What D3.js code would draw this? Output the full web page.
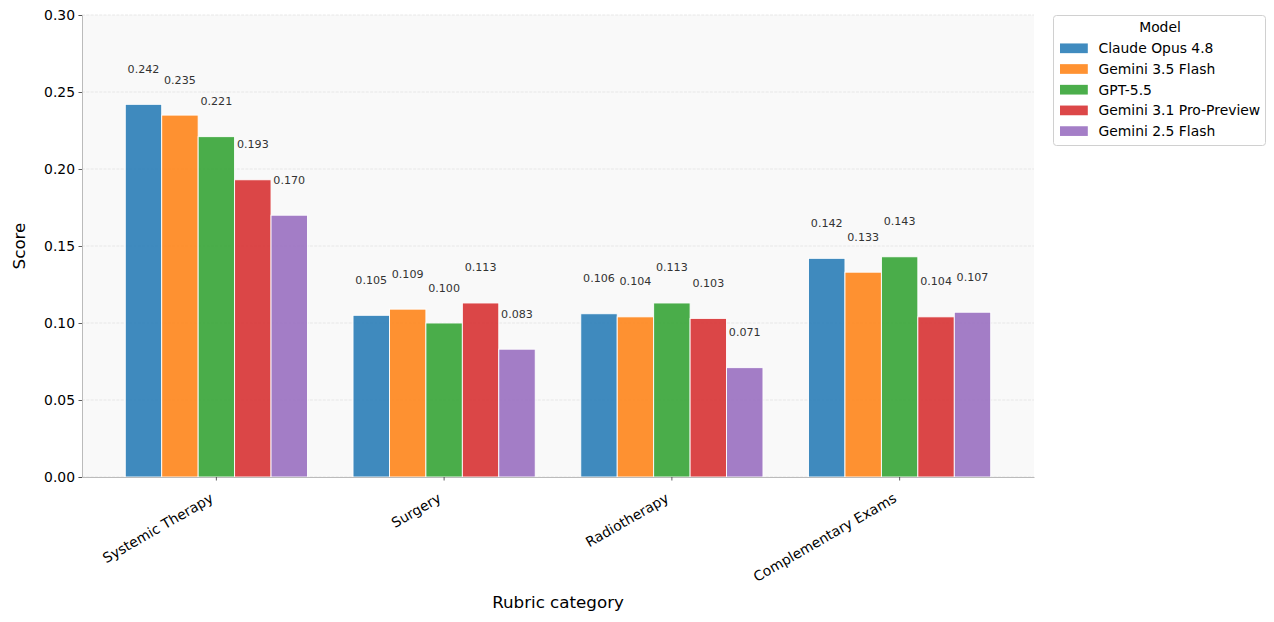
<!DOCTYPE html>
<html>
<head>
<meta charset="utf-8">
<script src="https://cdn.jsdelivr.net/npm/d3@7"></script>
<style>
	body { margin: 0; background: #fff; }
	text { font-family: "DejaVu Sans", sans-serif; }
</style>
</head>
<body>
<svg id="chart" width="1274" height="622"></svg>
<script>
// data
var categories = ['Systemic Therapy', 'Surgery', 'Radiotherapy', 'Complementary Exams'];
var models = ['Claude Opus 4.8', 'Gemini 3.5 Flash', 'GPT-5.5', 'Gemini 3.1 Pro-Preview', 'Gemini 2.5 Flash'];
var claudeOpus = [0.242, 0.105, 0.106, 0.142];
var gemini35Flash = [0.235, 0.109, 0.104, 0.133];
var gpt55 = [0.221, 0.100, 0.113, 0.143];
var gemini31Pro = [0.193, 0.113, 0.103, 0.104];
var gemini25Flash = [0.170, 0.083, 0.071, 0.107];
var yTicks = [0, 0.05, 0.10, 0.15, 0.20, 0.25, 0.30];

var series = [claudeOpus, gemini35Flash, gpt55, gemini31Pro, gemini25Flash];
var colors = ['#1f77b4', '#ff7f0e', '#2ca02c', '#d62728', '#9467bd'];

var svg = d3.select('#chart');
var plotLeft = 82, plotRight = 1034, plotTop = 15, plotBottom = 477;

var x = d3.scaleBand().domain(categories).range([plotLeft, plotRight]).paddingInner(0.2).paddingOuter(0.19);
var xm = d3.scaleBand().domain(models).range([0, x.bandwidth()]);
var y = d3.scaleLinear().domain([0, 0.30]).range([plotBottom, plotTop]);

//plot background
svg.append('rect')
	.attr('x', plotLeft).attr('y', plotTop)
	.attr('width', plotRight - plotLeft).attr('height', plotBottom - plotTop)
	.attr('fill', '#f9f9f9');

//grid
svg.append('g').selectAll('line')
	.data(yTicks)
	.enter().append('line')
	.attr('x1', plotLeft).attr('x2', plotRight)
	.attr('y1', function(d) { return y(d); })
	.attr('y2', function(d) { return y(d); })
	.attr('stroke', '#e3e3e3')
	.attr('stroke-width', 0.8)
	.attr('stroke-dasharray', '3,1.3');

//bars
var groups = svg.append('g').selectAll('g')
	.data(categories)
	.enter().append('g')
	.attr('transform', function(d) { return 'translate(' + x(d) + ',0)'; });

groups.selectAll('rect')
	.data(function(c, ci) { return models.map(function(m, mi) { return {model: m, i: mi, v: series[mi][ci]}; }); })
	.enter().append('rect')
	.attr('x', function(d) { return xm(d.model); })
	.attr('y', function(d) { return y(d.v); })
	.attr('width', xm.bandwidth())
	.attr('height', function(d) { return y(0) - y(d.v); })
	.attr('fill', function(d) { return colors[d.i]; })
	.attr('fill-opacity', 0.85)
	.attr('stroke', '#fff')
	.attr('stroke-width', 0.9);

//value labels
groups.selectAll('text')
	.data(function(c, ci) { return models.map(function(m, mi) { return {model: m, v: series[mi][ci]}; }); })
	.enter().append('text')
	.attr('x', function(d) { return xm(d.model) + xm.bandwidth() / 2; })
	.attr('y', function(d) { return y(d.v) - 31.5; })
	.attr('text-anchor', 'middle')
	.attr('font-size', '11.1px')
	.attr('fill', '#333')
	.text(function(d) { return d.v.toFixed(3); });

//axes
var yAxis = svg.append('g')
	.attr('transform', 'translate(' + plotLeft + ',0)')
	.call(d3.axisLeft(y).tickValues(yTicks).tickFormat(d3.format('.2f')).tickSize(3.5).tickPadding(3.5));
yAxis.select('.domain').attr('stroke', '#bbb').attr('stroke-width', 1);
yAxis.selectAll('.tick line').attr('stroke', '#333').attr('stroke-width', 0.8);
yAxis.selectAll('.tick text').attr('font-size', '13.9px').attr('fill', '#000').style('font-family', 'DejaVu Sans');

var xAxis = svg.append('g')
	.attr('transform', 'translate(0,' + plotBottom + ')')
	.call(d3.axisBottom(x).tickSize(3.5).tickSizeOuter(0));
xAxis.select('.domain').attr('stroke', '#bbb').attr('stroke-width', 1);
xAxis.selectAll('.tick line').attr('stroke', '#333').attr('stroke-width', 0.8);
xAxis.selectAll('.tick text')
	.attr('font-size', '13.9px')
	.attr('fill', '#000')
	.style('font-family', 'DejaVu Sans')
	.attr('text-anchor', 'end')
	.attr('y', 0).attr('dy', 0)
	.attr('transform', 'translate(-2,24) rotate(-30)');

//axis titles
svg.append('text')
	.attr('x', (plotLeft + plotRight) / 2).attr('y', 608)
	.attr('text-anchor', 'middle')
	.attr('font-size', '16.7px')
	.text('Rubric category');
svg.append('text')
	.attr('transform', 'translate(25,' + (plotTop + plotBottom) / 2 + ') rotate(-90)')
	.attr('text-anchor', 'middle')
	.attr('font-size', '16.7px')
	.text('Score');

//legend
var legend = svg.append('g').attr('transform', 'translate(1053,15)');
legend.append('rect')
	.attr('x', 0.5).attr('y', 0.5)
	.attr('width', 212).attr('height', 130)
	.attr('rx', 3)
	.attr('fill', '#fff')
	.attr('stroke', '#d0d0d0');
legend.append('text')
	.attr('x', 107).attr('y', 17)
	.attr('text-anchor', 'middle')
	.attr('font-size', '13.9px')
	.text('Model');
var items = legend.selectAll('g.item')
	.data(models)
	.enter().append('g')
	.attr('class', 'item')
	.attr('transform', function(d, i) { return 'translate(7,' + (33.3 + i * 20.7) + ')'; });
items.append('rect')
	.attr('width', 27.8).attr('height', 9.7)
	.attr('y', -4.85)
	.attr('fill', function(d, i) { return colors[i]; })
	.attr('fill-opacity', 0.85);
items.append('text')
	.attr('x', 38.5).attr('y', 5)
	.attr('font-size', '13.9px')
	.text(function(d) { return d; });
</script>
</body>
</html>
